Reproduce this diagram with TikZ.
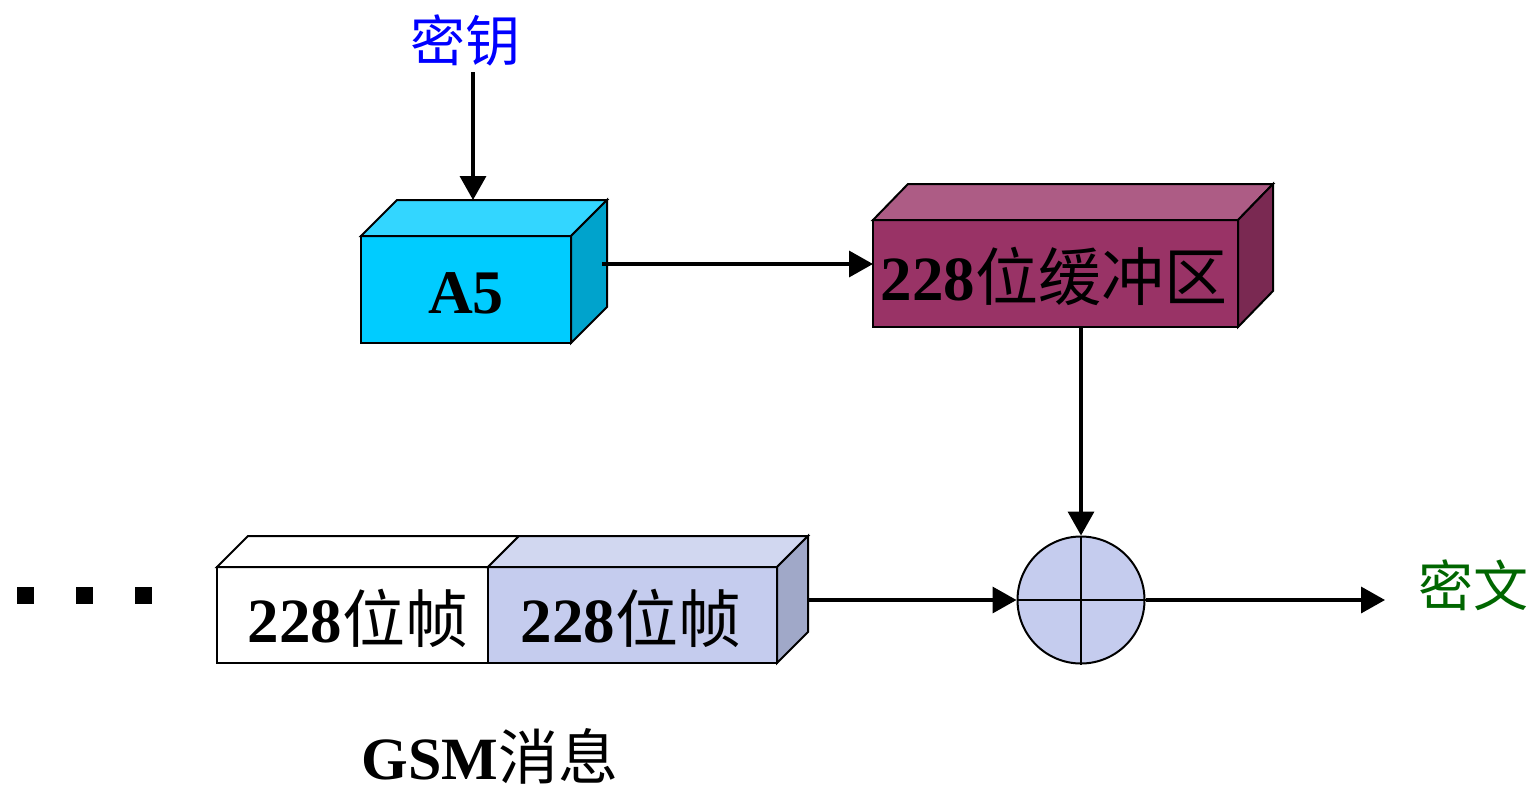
\documentclass[tikz,border=0pt]{standalone}
\usepackage{fontspec}
\setmainfont{Liberation Serif}
\newfontfamily\cjk{Noto Sans CJK SC}
\usetikzlibrary{arrows.meta}
\definecolor{afront}{HTML}{00CCFF}
\definecolor{atop}{HTML}{33D6FF}
\definecolor{aside}{HTML}{00A3CC}
\definecolor{bfront}{HTML}{993366}
\definecolor{btop}{HTML}{AD5C85}
\definecolor{bside}{HTML}{7A2952}
\definecolor{ffront}{HTML}{C5CCEE}
\definecolor{ftop}{HTML}{D1D7F0}
\definecolor{fside}{HTML}{A0A8C8}
\definecolor{keyblue}{HTML}{0000FF}
\definecolor{cgreen}{HTML}{006600}
\tikzset{
  face/.style={draw=black, line width=2pt, line join=miter},
  front/.style={face, rectangle, inner sep=0pt, outer sep=0pt},
  arr/.style={line width=3.5pt, -{Triangle[length=24pt,width=26pt]}},
  big/.style={font=\fontsize{63}{66}\selectfont},
  lab/.style={font=\fontsize{55}{60}\selectfont\cjk},
}
\begin{document}
\begin{tikzpicture}[x=1pt,y=-1pt]
\useasboundingbox (0,0) rectangle (1538,792);
% A5 box
\node[front, fill=afront, minimum width=210pt, minimum height=107pt] (a5) at (466,289.5) {};
\path[face, fill=atop] (a5.north west) -- ++(36,-36) -- ++(210,0) -- (a5.north east) -- cycle;
\path[face, fill=aside] (a5.north east) -- ++(36,-36) -- ++(0,107) -- (a5.south east) -- cycle;
\node[font=\fontsize{62}{64}\selectfont\bfseries] (a5t) at (466,293) {A5};
% buffer box
\node[front, fill=bfront, minimum width=365pt, minimum height=107pt] (buf) at (1055.5,273.5) {};
\path[face, fill=btop] (buf.north west) -- ++(35,-36) -- ++(365,0) -- (buf.north east) -- cycle;
\path[face, fill=bside] (buf.north east) -- ++(35,-36) -- ++(0,107) -- (buf.south east) -- cycle;
\node[big, inner sep=0pt] (buft) at (1054,276) {\textbf{228}\cjk 位缓冲区};
% frames
\node[front, fill=white, minimum width=271pt, minimum height=96pt] (f1) at (352.5,615) {};
\node[front, fill=ffront, minimum width=289pt, minimum height=96pt] (f2) at (632.5,615) {};
\path[face, fill=white] (f1.north west) -- ++(31,-31) -- ++(271,0) -- (f1.north east) -- cycle;
\path[face, fill=ftop] (f2.north west) -- ++(31,-31) -- ++(289,0) -- (f2.north east) -- cycle;
\path[face, fill=fside] (f2.north east) -- ++(31,-31) -- ++(0,96) -- (f2.south east) -- cycle;
\node[big, inner sep=0pt] (f1t) at (358,618) {\textbf{228}\cjk 位帧};
\node[big, inner sep=0pt] (f2t) at (631,618) {\textbf{228}\cjk 位帧};
% XOR
\node[circle, draw=black, line width=2pt, fill=ffront, minimum size=127pt, inner sep=0pt] (xor) at (1081,600) {};
\draw[line width=2pt] (xor.north) -- (xor.south) (xor.west) -- (xor.east);
% labels
\node[lab, text=keyblue] (key) at (465,40) {密钥};
\node[lab, text=cgreen] (ct) at (1473,585) {密文};
\node[font=\fontsize{60}{64}\selectfont, inner sep=0pt] (gsm) at (490,756) {\textbf{GSM}\cjk 消息};
% dots
\foreach \x [count=\i] in {25,84,143}
  \node[fill=black, minimum size=17pt, inner sep=0pt] (d\i) at (\x,595) {};
% arrows
\coordinate (keyout) at (473,72);
\coordinate (keyin) at (473,200);
\draw[arr] (keyout) -- (keyin);
\coordinate (a5out) at (602,264);
\draw[arr] (a5out) -- (a5out -| buf.west);
\draw[arr] (buf.south -| xor.north) -- (xor.north);
\coordinate (fout) at (808,600);
\draw[arr] (fout) -- (xor.west);
\coordinate (outend) at (1385,600);
\draw[arr] (xor.east) -- (outend);
\end{tikzpicture}
\end{document}
